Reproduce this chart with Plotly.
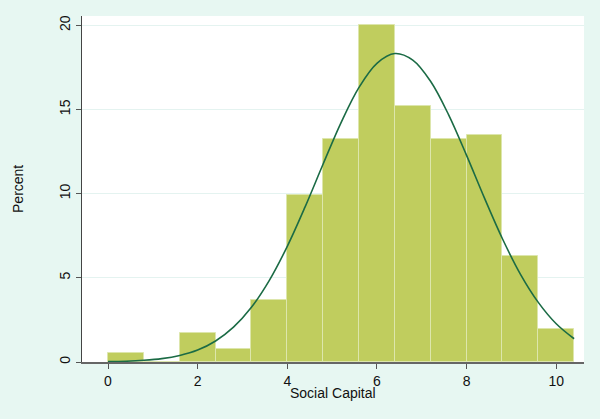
import plotly.graph_objects as go

# histogram bins (left edges), bin width 0.8
bin_left = [0.0, 0.8, 1.6, 2.4, 3.2, 4.0, 4.8, 5.6, 6.4, 7.2, 8.0, 8.8, 9.6]
percent = [0.52, 0.0, 1.74, 0.79, 3.68, 9.94, 13.27, 20.0, 15.2, 13.27, 13.5, 6.3, 1.96]
bin_width = 0.8

# normal density overlay
curve_x = [0.0, 0.4, 0.8, 1.2, 1.6, 2.0, 2.4, 2.8, 3.2, 3.6, 4.0, 4.4, 4.8, 5.2,
           5.6, 6.0, 6.4, 6.8, 7.2, 7.6, 8.0, 8.4, 8.8, 9.2, 9.6, 10.0, 10.4]
curve_y = [0.02, 0.045, 0.10, 0.20, 0.39, 0.71, 1.25, 2.07, 3.25, 4.85, 6.87, 9.23,
           11.76, 14.22, 16.31, 17.74, 18.32, 17.93, 16.66, 14.68, 12.27, 9.73,
           7.32, 5.22, 3.54, 2.27, 1.38]

x_ticks = [0, 2, 4, 6, 8, 10]
y_ticks = [0, 5, 10, 15, 20]

centers = [b + bin_width / 2 for b in bin_left]

bars = go.Bar(x=centers, y=percent, width=bin_width,
              marker={'color': '#C0CD5E', 'line': {'color': '#DDE6AC', 'width': 1}},
              showlegend=False)
curve = go.Scatter(x=curve_x, y=curve_y, mode='lines', line_shape='spline',
                   line={'color': '#1B6B45', 'width': 1.6}, showlegend=False)

fig = go.Figure(data=[bars, curve])
fig.update_layout(
    width=600, height=419,
    margin=dict(l=82, r=16, t=16, b=57),
    paper_bgcolor='#E7F7F2', plot_bgcolor='white',
    font=dict(family='Liberation Sans, Arial, sans-serif', size=14, color='#111'),
    bargap=0,
    annotations=[
        dict(text='Percent', xref='paper', yref='paper', x=-0.1275, y=0.5,
             xanchor='center', yanchor='middle',
             showarrow=False, textangle=-90, font=dict(size=14)),
        dict(text='Social Capital', xref='paper', yref='paper', x=0.5, y=-0.0896,
             xanchor='center', yanchor='middle',
             showarrow=False, font=dict(size=14)),
    ],
)
fig.update_xaxes(range=[-0.58, 10.62], tickvals=x_ticks, ticks='outside', ticklen=5,
                 tickcolor='#555', showline=True, linecolor='#666', linewidth=1.5,
                 showgrid=False, zeroline=False)
fig.update_yaxes(range=[0, 20.55], tickvals=y_ticks, ticks='outside', ticklen=5,
                 tickcolor='#555', tickangle=-90, showline=True, linecolor='#444',
                 linewidth=1, showgrid=True, gridcolor='#E4F3F0', zeroline=False)

fig.write_html("out.html", config={'displayModeBar': False},
               post_script="document.body.style.margin='0';")
